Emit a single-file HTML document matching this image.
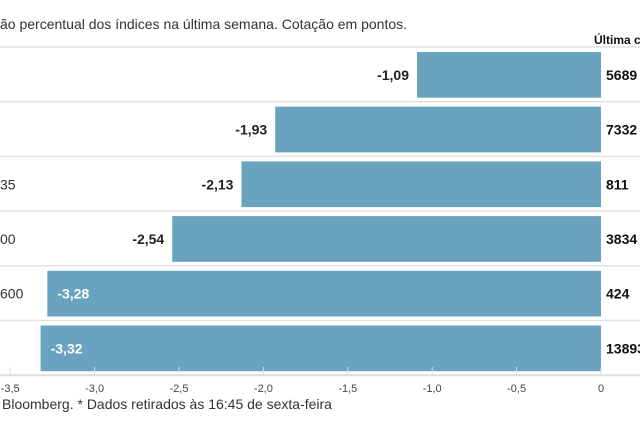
<!DOCTYPE html>
<html><head><meta charset="utf-8"><style>
body{margin:0;background:#fff;width:640px;height:426px;overflow:hidden;font-family:"Liberation Sans",sans-serif}
svg text{font-family:"Liberation Sans",sans-serif}
</style></head><body>
<svg id="c" width="640" height="426"></svg>
<script>
const labels=["","","35","00","600",""];
const values=[-1.09,-1.93,-2.13,-2.54,-3.28,-3.32];
const valueLabels=["-1,09","-1,93","-2,13","-2,54","-3,28","-3,32"];
const lastQuote=["5689","7332","811","3834","424","13893"];
const ticks=[-3.5,-3.0,-2.5,-2.0,-1.5,-1.0,-0.5,0];
const tickLabels=["-3,5","-3,0","-2,5","-2,0","-1,5","-1,0","-0,5","0"];
const NS="http://www.w3.org/2000/svg";
const svg=document.getElementById('c');
const x=v=>601+v*168.8;
const top0=47,rowH=54.7;
function mk(t,a,txt){const e=document.createElementNS(NS,t);for(const k in a)e.setAttribute(k,a[k]);if(txt!==undefined)e.textContent=txt;svg.appendChild(e);return e;}
let e;
e=mk('text',{x:0,y:29,'font-size':14,fill:'#333'},"ão percentual dos índices na última semana. Cotação em pontos.");

e=mk('text',{x:594,y:44,'font-size':12,'font-weight':'bold',fill:'#111'},"Última cotação");

for(let i=0;i<=values.length;i++){
 e=mk('line',{x1:0,x2:640,y1:top0+i*rowH,y2:top0+i*rowH,stroke:i==values.length?'#ddd':'#e2e2e2','stroke-width':i==values.length?2:1.5});
 
}
values.forEach((v,i)=>{
 const y0=top0+i*rowH+5,h=rowH-9;
 e=mk('rect',{x:x(v),y:y0,width:x(0)-x(v),height:h,fill:'#6aa3bf'});
 
 const inside=v<-3;
 e=mk('text',{x:inside?x(v)+10:x(v)-8,y:y0+h/2+5,'font-size':14,'font-weight':'bold','text-anchor':inside?'start':'end',fill:inside?'#fff':'#222'},valueLabels[i]);
 
 e=mk('text',{x:606,y:y0+h/2+5,'font-size':14,'font-weight':'bold',fill:'#111'},lastQuote[i]);
 
 e=mk('text',{x:0,y:y0+h/2+5,'font-size':14,fill:'#333'},labels[i]);
 
});
ticks.forEach((t,i)=>{
 e=mk('line',{x1:x(t),x2:x(t),y1:367,y2:375,stroke:'#ddd'});
 
 e=mk('text',{x:x(t),y:392,'font-size':11,'text-anchor':'middle',fill:'#444'},tickLabels[i]);
 
});
e=mk('text',{x:2,y:409,'font-size':14,fill:'#333'},"Bloomberg.  * Dados retirados às 16:45 de sexta-feira");

</script>
</body></html>
